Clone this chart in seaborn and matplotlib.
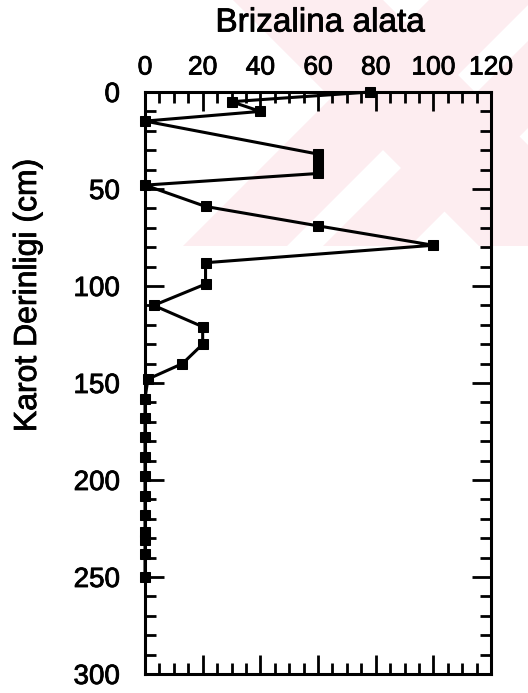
import matplotlib
matplotlib.use('Agg')
import matplotlib.pyplot as plt
import matplotlib.patheffects as pe
import seaborn as sns
import pandas as pd
from matplotlib.ticker import MultipleLocator
from matplotlib.patches import Polygon

# ---- data ----
depths = [0, 5, 10, 15, 32, 37, 42, 48, 59, 69, 79, 88, 99, 110, 121, 130, 140,
          148, 158, 168, 178, 188, 198, 208, 218, 227, 231, 238, 250]
counts = [78, 30, 40, 0, 60, 60, 60, 0, 21, 60, 100, 21, 21, 3, 20, 20, 13,
          1, 0, 0, 0, 0, 0, 0, 0, 0, 0, 0, 0]
x_ticks = [0, 20, 40, 60, 80, 100, 120]
y_ticks = [0, 50, 100, 150, 200, 250, 300]
title = 'Brizalina alata'
ylabel = 'Karot Derinligi (cm)'

sns.set_theme(style='white')
plt.rcParams['font.family'] = ['Liberation Sans', 'DejaVu Sans']
plt.rcParams['text.color'] = 'black'

W, H = 528, 693
fig = plt.figure(figsize=(W / 100, H / 100), dpi=100)
fig.patch.set_facecolor('white')
ax = fig.add_axes([145 / W, 1 - 674 / H, 346 / W, 582 / H])
ax.patch.set_alpha(0)

# faint pink watermark in the background
def px(x, y):
    return (x / W, 1 - y / H)

wm = [
    [(183, 246), (287, 246), (533, 0), (429, 0)],
    [(323, 246), (410, 246), (656, 0), (569, 0)],
    [(233, 0), (383, 0), (629, 246), (479, 246)],
]
for poly in wm:
    fig.add_artist(Polygon([px(*p) for p in poly], closed=True,
                           transform=fig.transFigure, facecolor='#fdedf0',
                           edgecolor='none', zorder=-5))

df = pd.DataFrame({'depth': depths, 'count': counts})
sns.lineplot(data=df, x='count', y='depth', sort=False, estimator=None,
             marker='s', markersize=7.5, color='black', linewidth=2.2,
             markeredgecolor='black', clip_on=False, ax=ax)

ax.set_xlim(0, 120)
ax.set_ylim(300, 0)
ax.set_xticks(x_ticks)
ax.set_yticks(y_ticks)
ax.xaxis.set_minor_locator(MultipleLocator(5))
ax.yaxis.set_minor_locator(MultipleLocator(10))
ax.tick_params(which='both', direction='in', top=True, bottom=True, left=True,
               right=True, labeltop=True, labelbottom=False, width=2,
               color='black', labelcolor='black')
ax.tick_params(which='major', length=14)
ax.tick_params(which='minor', length=8)
ax.tick_params(axis='x', labelsize=19, pad=9)
ax.tick_params(axis='y', labelsize=20, pad=18)
for s in ax.spines.values():
    s.set_visible(True)
    s.set_linewidth(2.2)
    s.set_color('black')
ax.set_xlabel('')
ax.set_ylabel('')

stroke = [pe.withStroke(linewidth=0.6, foreground='black')]
for lab in ax.get_xticklabels() + ax.get_yticklabels():
    lab.set_path_effects(stroke)

fig.text(320 / W, 1 - 23 / H, title, ha='center', va='center', fontsize=24,
         color='black', path_effects=stroke)
fig.text(28 / W, 1 - 295 / H, ylabel, rotation=90, ha='center', va='center',
         fontsize=23, color='black', path_effects=stroke)

fig.savefig('out.png', dpi=100)
